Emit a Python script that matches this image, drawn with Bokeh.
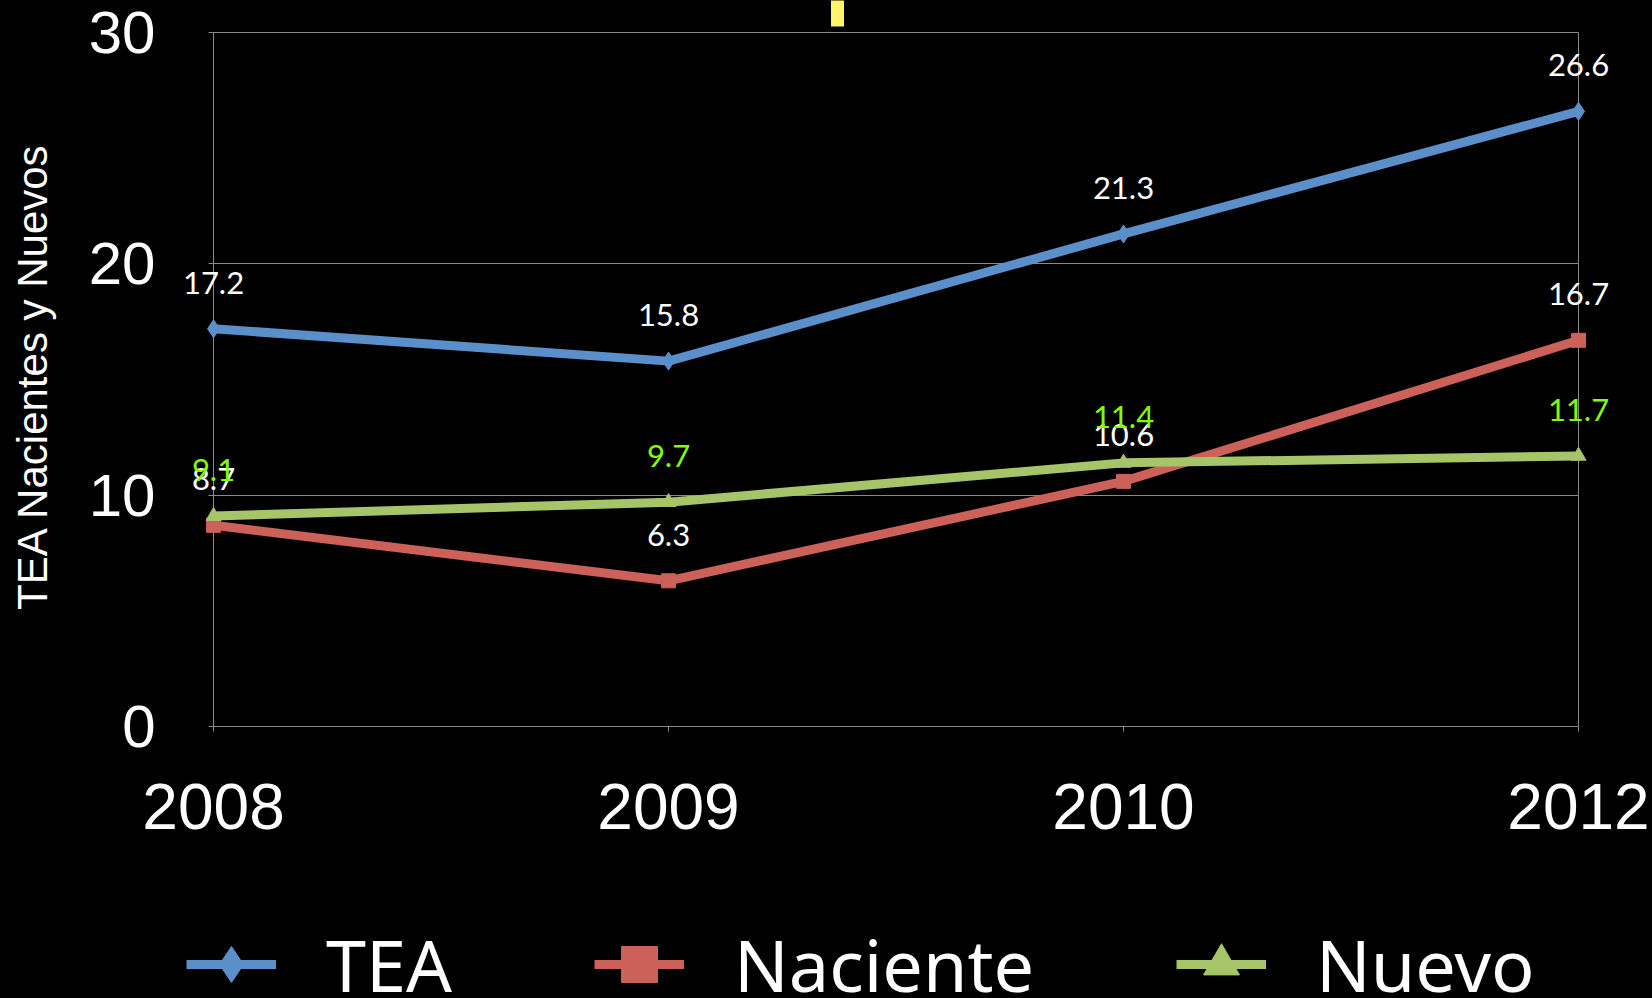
from bokeh.plotting import figure
from bokeh.layouts import column
from bokeh.models import (ColumnDataSource, FixedTicker, LabelSet, Legend, LegendItem,
                          LinearAxis, Range1d)
from bokeh.core.properties import value
from bokeh.embed import file_html
from bokeh.resources import INLINE

# ---- data ----
years = ["2008", "2009", "2010", "2012"]
tea = [17.2, 15.8, 21.3, 26.6]
naciente = [8.7, 6.3, 10.6, 16.7]
nuevo = [9.1, 9.7, 11.4, 11.7]
y_ticks = [0, 10, 20, 30]
y_title = "TEA Nacientes y Nuevos"
series_names = ["TEA", "Naciente", "Nuevo"]

# ---- style ----
BLUE = "#5B8FCA"
RED = "#CC6159"
GREEN = "#A6C468"
LIME = "#80FF00"
GRID = "#8A8A8A"
YELLOW = "#FFF46A"

xs = list(range(len(years)))
x_last = xs[-1]
y_top = y_ticks[-1]
tick_len = 0.011   # short outward tick, in x units
TOP = 26           # top border, px
mark_x = 1.372     # position of the small yellow mark above the chart

# ---- main chart ----
p = figure(width=1652, height=898, output_backend="svg", toolbar_location=None,
           x_range=Range1d(-0.077, x_last + 0.1626), y_range=Range1d(0, 30.27),
           min_border_left=178, min_border_right=0, min_border_top=TOP, min_border_bottom=172,
           background_fill_color="black", border_fill_color="black",
           outline_line_color=None)

p.ygrid.ticker = FixedTicker(ticks=y_ticks)
p.ygrid.cross_bounds = (-tick_len, x_last)
p.ygrid.grid_line_color = GRID
p.ygrid.grid_line_width = 1
p.xgrid.ticker = FixedTicker(ticks=[xs[0], x_last])
p.xgrid.cross_bounds = (0, y_top)
p.xgrid.grid_line_color = GRID
p.xgrid.grid_line_width = 1

xa = p.xaxis[0]
ya = p.yaxis[0]
for ax in (xa, ya):
    ax.minor_tick_line_color = None
    ax.major_label_text_color = "white"
    ax.major_label_text_font = "Liberation Sans"

xa.bounds = (-tick_len, x_last)
xa.axis_line_color = GRID
xa.major_tick_line_color = GRID
xa.major_tick_out = 5
xa.major_tick_in = 0
xa.ticker = FixedTicker(ticks=xs)
xa.major_label_overrides = {i: y for i, y in enumerate(years)}
xa.major_label_text_font_size = "64px"
xa.major_label_standoff = 52

ya.bounds = (0, y_top)
ya.axis_line_color = None
ya.major_tick_line_color = None
ya.major_tick_out = 0
ya.major_tick_in = 0
ya.ticker = FixedTicker(ticks=y_ticks)
ya.major_label_text_font_size = "60px"
ya.major_label_standoff = 23
ya.axis_label = y_title
ya.axis_label_text_font = "Liberation Sans"
ya.axis_label_text_font_size = "42px"
ya.axis_label_text_font_style = "normal"
ya.axis_label_text_color = "white"
ya.axis_label_standoff = 30

# small yellow mark above the plot area, drawn as a single wide tick of a top axis
mark_axis = LinearAxis(ticker=FixedTicker(ticks=[mark_x]),
                       axis_line_color=None, minor_tick_line_color=None,
                       major_tick_line_color=YELLOW, major_tick_line_width=13,
                       major_tick_out=TOP, major_tick_in=0,
                       major_label_standoff=0, major_label_text_font_size="1px",
                       major_label_text_alpha=0)
p.add_layout(mark_axis, "above")

series = [(tea, BLUE, "diamond", 18, "white"),
          (naciente, RED, "square", 14, "white"),
          (nuevo, GREEN, "triangle", 15, LIME)]

# ---- legend strip below the chart (its own renderers, kept out of view) ----
lg = figure(width=1652, height=100, output_backend="svg", toolbar_location=None,
            x_range=Range1d(100, 101), y_range=Range1d(100, 101),
            x_axis_location=None, y_axis_location=None,
            min_border_left=0, min_border_right=0, min_border_top=0, min_border_bottom=0,
            background_fill_color="black", border_fill_color="black",
            outline_line_color=None)
lg.xgrid.visible = False
lg.ygrid.visible = False

items = []
for name, (vals, col, mk, sz, lab_col) in zip(series_names, series):
    src = ColumnDataSource(dict(x=xs, y=vals, label=["%.1f" % v for v in vals]))
    p.line("x", "y", source=src, line_width=9, line_color=col, line_join="round")
    p.scatter("x", "y", source=src, marker=mk, size=sz, fill_color=col, line_color=col)
    p.add_layout(LabelSet(x="x", y="y", text="label", source=src,
                          text_align="center", text_baseline="alphabetic", y_offset=35,
                          text_font=value("Lato"), text_font_size="31px",
                          text_color=lab_col))
    lr = lg.line("x", "y", source=src, line_width=9, line_color=col)
    sr = lg.scatter("x", "y", source=src, marker=mk, size=sz, fill_color=col, line_color=col)
    items.append(LegendItem(label=name, renderers=[lr, sr]))

legend = Legend(items=items, orientation="horizontal", location=(8, -15),
                glyph_width=90, glyph_height=90, label_height=90,
                label_standoff=50, spacing=142, padding=0, margin=0,
                label_text_font="Noto Sans", label_text_font_size="72px",
                label_text_color="white", background_fill_alpha=0, border_line_alpha=0)
lg.add_layout(legend)

layout = column(p, lg, spacing=0)
html = file_html(layout, INLINE)
html = html.replace("<head>", "<head><style>html, body {background-color: #000000;}</style>", 1)
open("out.html", "w").write(html)
